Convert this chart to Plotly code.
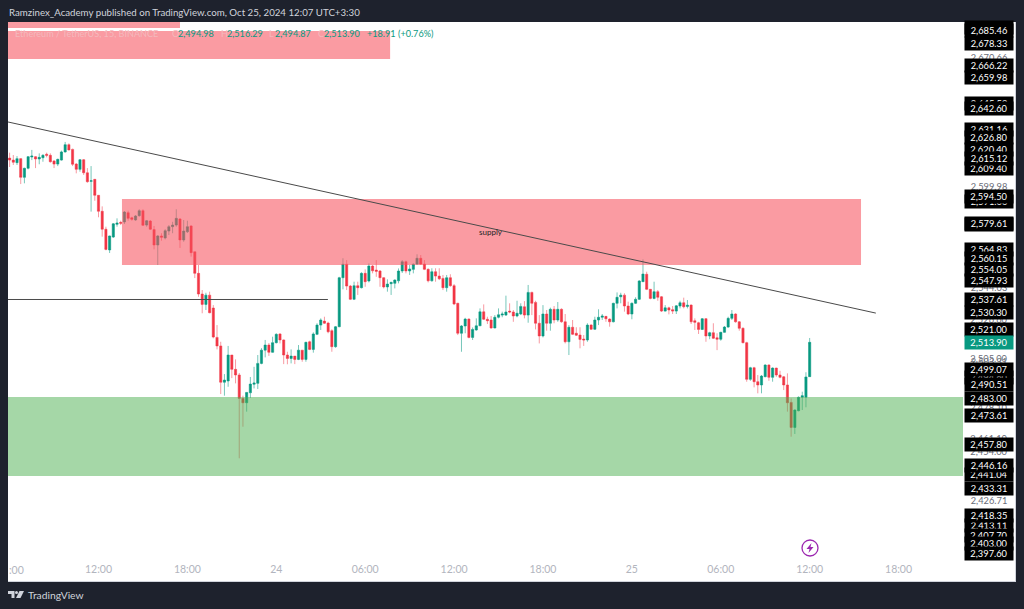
import pandas as pd
import plotly.graph_objects as go

opens = [
2615.4,2614.3,2612.9,2615.1,2604.8,2609.8,2616.0,2616.2,2614.9,2615.6,
2617.5,2616.9,2613.8,2612.1,2614.3,2618.8,2622.8,2620.2,2612.1,2609.2,
2614.5,2607.3,2602.6,2603.7,2594.9,2586.1,2576.2,2564.8,2571.9,2578.9,
2580.0,2580.2,2585.3,2582.5,2581.3,2583.7,2586.4,2578.5,2580.7,2576.0,
2567.5,2572.5,2571.4,2575.2,2577.6,2578.5,2581.8,2570.3,2574.8,2578.0,
2563.8,2551.9,2540.5,2534.8,2539.9,2532.8,2516.6,2511.9,2491.9,2492.6,
2506.9,2499.0,2495.9,2483.0,2480.6,2486.1,2490.8,2491.3,2502.3,2509.6,
2512.4,2508.4,2513.7,2518.5,2515.2,2506.9,2505.0,2506.3,2504.5,2509.6,
2504.5,2514.2,2510.0,2518.3,2523.4,2525.6,2524.5,2520.3,2511.5,2522.5,
2549.5,2556.9,2544.9,2537.6,2545.1,2544.0,2551.9,2547.7,2555.9,2553.7,
2553.2,2549.5,2544.4,2546.2,2546.4,2547.8,2553.2,2558.3,2553.2,2554.1,
2557.0,2560.2,2557.0,2554.1,2547.8,2552.8,2550.4,2549.1,2544.0,2549.5,
2545.1,2535.4,2518.9,2522.9,2526.7,2516.6,2520.7,2523.0,2530.7,2526.6,
2526.2,2521.8,2527.7,2528.9,2528.9,2531.1,2530.6,2528.4,2529.5,2533.5,
2528.9,2541.4,2535.9,2524.4,2517.4,2529.5,2524.4,2532.1,2526.2,2532.1,
2525.2,2514.2,2522.2,2518.9,2517.9,2515.7,2515.2,2523.4,2521.1,2526.2,
2527.7,2528.2,2526.7,2525.2,2535.4,2539.0,2539.9,2533.9,2529.5,2535.4,
2537.6,2547.3,2551.4,2543.1,2538.1,2541.8,2539.0,2531.1,2532.9,2531.9,
2531.1,2533.9,2535.7,2533.7,2534.4,2525.8,2524.7,2521.0,2526.9,2517.4,
2519.2,2516.4,2515.6,2519.4,2522.3,2527.1,2529.5,2525.2,2521.6,2513.7,
2493.5,2499.9,2492.2,2490.4,2495.0,2501.4,2494.6,2499.7,2495.9,2494.9,
2490.4,2480.8,2467.0,2476.2,2483.6,2483.6,2494.98]
highs = [
2618.4,2617.1,2616.5,2615.4,2610.1,2616.5,2619.9,2616.5,2618.0,2617.6,
2618.4,2618.0,2614.3,2615.1,2619.5,2624.3,2623.5,2620.6,2612.7,2614.9,
2614.9,2609.9,2611.0,2603.9,2595.0,2588.8,2577.6,2572.7,2579.6,2582.2,
2580.9,2586.2,2586.4,2583.1,2584.0,2587.2,2587.2,2581.3,2581.3,2578.0,
2573.0,2574.0,2576.2,2578.5,2580.3,2587.2,2582.4,2581.3,2580.9,2578.4,
2563.8,2556.5,2542.7,2541.2,2541.8,2534.4,2523.4,2514.2,2496.4,2511.9,
2506.9,2504.5,2497.0,2484.5,2486.5,2494.8,2500.4,2506.9,2510.7,2515.2,
2513.5,2517.0,2518.9,2518.9,2515.5,2508.7,2510.0,2506.3,2512.4,2509.6,
2514.2,2514.8,2519.4,2524.4,2527.1,2528.0,2525.2,2521.1,2522.9,2550.0,
2560.2,2559.2,2545.5,2547.3,2547.3,2552.5,2554.1,2557.4,2556.5,2559.2,
2553.7,2549.7,2548.6,2547.3,2548.6,2554.6,2559.2,2558.9,2556.5,2557.4,
2562.4,2562.0,2559.2,2554.7,2554.7,2554.7,2554.7,2551.0,2551.0,2551.4,
2546.0,2535.7,2523.4,2527.4,2527.1,2522.1,2527.1,2532.6,2534.8,2528.0,
2528.4,2528.9,2532.6,2530.8,2539.6,2535.4,2531.7,2536.8,2535.4,2536.6,
2545.5,2541.8,2536.8,2528.9,2534.4,2531.7,2533.0,2533.9,2536.1,2532.6,
2529.5,2523.4,2526.2,2522.2,2522.2,2517.9,2524.4,2523.9,2528.0,2532.1,
2529.5,2528.4,2527.1,2535.7,2541.4,2541.2,2540.9,2536.3,2535.9,2538.7,
2548.2,2559.6,2552.8,2543.3,2547.3,2542.7,2539.4,2534.4,2533.5,2533.9,
2534.4,2536.8,2538.5,2537.2,2534.8,2527.1,2525.2,2527.3,2527.3,2519.7,
2524.4,2518.9,2519.7,2522.9,2528.0,2531.7,2529.9,2525.6,2522.2,2514.2,
2500.4,2500.4,2495.9,2495.9,2501.8,2501.8,2500.1,2499.9,2498.2,2495.3,
2496.8,2483.0,2477.0,2484.1,2486.7,2497.4,2516.29]
lows = [
2610.5,2611.6,2611.6,2601.1,2601.5,2609.2,2614.3,2609.9,2612.0,2613.4,
2615.8,2612.9,2609.9,2611.0,2614.0,2618.4,2619.5,2611.0,2607.0,2607.9,
2606.1,2601.8,2585.9,2591.9,2582.8,2572.1,2564.6,2563.1,2571.4,2577.6,
2578.5,2579.1,2580.9,2580.9,2580.9,2583.1,2578.0,2577.6,2575.8,2565.1,
2556.5,2569.9,2570.6,2573.0,2574.0,2577.6,2565.9,2569.3,2574.1,2561.1,
2549.3,2539.0,2529.9,2531.7,2529.9,2516.1,2510.0,2485.4,2484.5,2489.4,
2494.2,2491.3,2450.0,2467.4,2475.7,2483.2,2488.5,2488.2,2501.8,2505.6,
2506.4,2508.2,2513.3,2513.3,2501.9,2501.8,2502.3,2501.9,2504.1,2503.2,
2503.2,2509.6,2508.2,2517.9,2520.7,2524.0,2518.9,2508.7,2510.9,2522.2,
2543.1,2542.7,2537.2,2537.2,2540.0,2543.6,2544.5,2546.9,2551.9,2550.0,
2544.5,2543.6,2541.8,2540.0,2543.6,2546.4,2552.1,2551.9,2551.0,2551.9,
2556.5,2556.5,2553.7,2546.9,2547.3,2547.3,2548.2,2542.7,2541.8,2544.5,
2534.4,2517.9,2508.7,2518.9,2516.1,2515.2,2520.3,2522.9,2526.2,2524.0,
2521.4,2521.6,2527.1,2527.7,2528.4,2529.9,2525.2,2527.7,2528.9,2527.1,
2524.7,2528.9,2521.0,2513.3,2516.6,2520.3,2520.3,2524.4,2525.2,2524.7,
2513.3,2506.9,2517.9,2517.4,2510.6,2511.9,2514.2,2520.7,2520.7,2523.4,
2526.2,2525.2,2522.5,2524.9,2532.6,2535.4,2530.8,2528.9,2526.6,2535.0,
2537.2,2547.3,2542.7,2537.6,2537.6,2536.8,2530.6,2530.8,2529.3,2529.5,
2529.5,2532.6,2532.6,2532.6,2524.0,2520.7,2518.5,2520.7,2514.2,2515.6,
2515.7,2509.6,2514.8,2519.2,2521.9,2526.2,2524.7,2520.3,2513.3,2492.2,
2492.7,2489.1,2485.8,2485.8,2494.6,2492.7,2492.2,2494.9,2494.1,2487.6,
2475.7,2461.9,2463.4,2475.9,2476.6,2478.1,2494.87]
closes = [
2614.3,2613.1,2615.1,2604.8,2609.8,2616.2,2616.5,2614.9,2615.8,2616.9,
2616.9,2613.4,2612.1,2614.7,2618.8,2622.8,2619.9,2612.0,2609.2,2614.5,
2607.3,2602.4,2602.9,2594.9,2586.1,2576.2,2565.1,2572.5,2579.2,2579.6,
2579.5,2585.7,2582.2,2581.7,2583.5,2586.4,2578.4,2580.9,2576.2,2567.5,
2572.5,2571.8,2575.4,2577.6,2578.5,2582.2,2570.3,2575.2,2577.6,2563.3,
2551.9,2540.5,2534.8,2539.9,2530.2,2516.8,2511.9,2491.9,2493.1,2506.9,
2499.0,2495.9,2483.0,2480.6,2486.3,2490.9,2491.5,2502.3,2509.6,2512.4,
2508.4,2513.7,2518.3,2515.2,2506.9,2505.0,2506.3,2504.5,2509.6,2504.5,
2513.9,2510.0,2518.5,2523.4,2526.2,2524.4,2519.7,2511.5,2522.5,2549.5,
2556.9,2544.9,2537.6,2545.1,2544.0,2551.9,2547.3,2555.9,2553.3,2553.0,
2549.5,2544.4,2546.0,2546.9,2548.2,2553.2,2558.3,2553.2,2554.3,2556.9,
2560.2,2557.0,2554.1,2547.8,2552.8,2550.4,2548.9,2544.0,2549.5,2545.1,
2535.0,2518.9,2522.9,2526.7,2516.6,2521.0,2523.0,2530.7,2526.6,2525.8,
2521.8,2527.7,2529.1,2529.5,2530.6,2530.6,2528.4,2529.9,2533.7,2528.9,
2541.4,2535.4,2524.4,2517.4,2529.5,2524.4,2532.1,2526.2,2532.1,2525.2,
2514.2,2522.2,2518.3,2517.8,2515.5,2515.2,2523.4,2521.1,2526.2,2527.7,
2528.4,2526.9,2525.2,2535.4,2538.7,2539.9,2533.9,2529.5,2535.4,2537.6,
2547.7,2551.5,2543.1,2538.1,2541.8,2538.7,2531.1,2532.9,2531.7,2531.1,
2534.0,2535.7,2533.5,2534.3,2525.2,2524.9,2521.0,2526.9,2517.4,2519.2,
2516.1,2515.6,2519.4,2522.3,2527.1,2529.5,2525.2,2521.6,2513.7,2493.5,
2499.9,2492.2,2490.4,2495.3,2501.4,2494.6,2499.7,2495.9,2494.6,2490.4,
2480.6,2467.0,2476.6,2483.6,2484.5,2494.8,2513.90]
assert len(opens) == len(highs) == len(lows) == len(closes) == 217

times = pd.date_range("2024-10-23 06:00", periods=217, freq="15min")

tick_times = ["2024-10-23 12:00","2024-10-23 18:00","2024-10-24 00:00","2024-10-24 06:00",
              "2024-10-24 12:00","2024-10-24 18:00","2024-10-25 00:00","2024-10-25 06:00",
              "2024-10-25 12:00","2024-10-25 18:00"]
tick_text = ["12:00","18:00","24","06:00","12:00","18:00","25","06:00","12:00","18:00"]

plain_labels = [2670.66, 2599.98, 2544.03, 2526.60, 2505.00, 2503.31, 2478.10, 2461.10, 2454.00, 2426.71]
covered_labels = [2687.10, 2645.52, 2631.16, 2620.40, 2609.40, 2591.66, 2578.87, 2494.60, 2441.04, 2413.11, 2407.70]
front_labels = [2685.46, 2678.33, 2666.22, 2659.98, 2642.60, 2626.80, 2615.12, 2594.50, 2579.61,
                2564.83, 2560.15, 2554.05, 2547.93, 2537.61, 2530.30, 2521.00, 2499.07, 2490.51,
                2483.00, 2473.61, 2457.80, 2446.16, 2433.31, 2418.35, 2403.00, 2397.60]
last_price = 2513.90

header_text = "Ramzinex_Academy published on TradingView.com, Oct 25, 2024 12:07 UTC+3:30"
symbol_text = "Ethereum / TetherUS, 15, BINANCE"
ohlc_letters = ["O", "H", "L", "C"]
ohlc_values = ["2,494.98", "2,516.29", "2,494.87", "2,513.90"]
change_text = ["+18.91", "(+0.76%)"]

UP, DOWN = "#089981", "#f23645"
DARK = "#1e222d"
W, H = 1024, 609
L, R, T, B = 8, 1015, 22, 581
SCALE_FONT = "Lato"


def px(x):
    return (x - L) / (R - L)


def py(y):
    return (B - y) / (B - T)


fig = go.Figure(go.Candlestick(
    x=times, open=opens, high=highs, low=lows, close=closes,
    increasing=dict(line=dict(color="rgba(8,153,129,0.55)", width=1), fillcolor=UP),
    decreasing=dict(line=dict(color="rgba(242,54,69,0.5)", width=1), fillcolor=DOWN),
    whiskerwidth=0, showlegend=False, hoverinfo="skip",
))

RED_ZONE = "rgba(247,82,95,0.58)"
GREEN_ZONE = "rgba(76,175,80,0.5)"
X0 = "2024-10-23 05:53:30"
shapes = [
    dict(type="rect", x0=X0, x1="2024-10-23 17:30", y0=2687.07, y1=2690.4, fillcolor=RED_ZONE, line_width=0),
    dict(type="rect", x0=X0, x1="2024-10-24 07:41", y0=2670.0, y1=2685.4, fillcolor=RED_ZONE, line_width=0),
    dict(type="rect", x0="2024-10-23 13:35", x1="2024-10-25 15:28", y0=2556.5, y1=2592.85, fillcolor=RED_ZONE, line_width=0),
    dict(type="rect", x0=X0, x1="2024-10-25 22:21", y0=2440.2, y1=2483.76, fillcolor=GREEN_ZONE, line_width=0),
    dict(type="line", x0=X0, x1="2024-10-25 16:28", y0=2635.3, y1=2530.0, line=dict(color="#4a4a4a", width=1)),
    dict(type="line", x0=X0, x1="2024-10-24 03:29", y0=2537.5, y1=2537.5, line=dict(color="#4a4a4a", width=1)),
    # lightning badge
    dict(type="circle", xref="paper", yref="paper", x0=px(802), x1=px(818), y0=py(556), y1=py(540),
         line=dict(color="#9c27b0", width=1.3)),
    dict(type="path", xref="paper", yref="paper", fillcolor="#9c27b0", line_width=0,
         path=f"M {px(811.5)} {py(543)} L {px(806.5)} {py(549)} L {px(809.5)} {py(549)} L {px(808.5)} {py(553)} "
              f"L {px(813.5)} {py(547)} L {px(810.5)} {py(547)} Z"),
    # TradingView logo
    dict(type="path", xref="paper", yref="paper", fillcolor="#d1d4dc", line_width=0,
         path=f"M {px(8)} {py(591)} L {px(14.5)} {py(591)} L {px(14.5)} {py(598)} L {px(11.5)} {py(598)} "
              f"L {px(11.5)} {py(594)} L {px(8)} {py(594)} Z"),
    dict(type="circle", xref="paper", yref="paper", fillcolor="#d1d4dc", line_width=0,
         x0=px(15), x1=px(18), y0=py(594), y1=py(591)),
    dict(type="path", xref="paper", yref="paper", fillcolor="#d1d4dc", line_width=0,
         path=f"M {px(19.5)} {py(591)} L {px(24)} {py(591)} L {px(20.5)} {py(598)} L {px(16)} {py(598)} Z"),
]

ann = []


def paper_text(text, x, y, color, size, anchor="left", font=SCALE_FONT):
    ann.append(dict(text=text, xref="paper", yref="paper", x=px(x), y=py(y), xanchor=anchor, yanchor="middle",
                    showarrow=False, font=dict(family=font, size=size, color=color), borderpad=0))


def scale_label(value, text_color, bg=None):
    d = dict(text=f"{value:,.2f}", xref="paper", yref="y", x=px(964), y=value, xanchor="left", yanchor="middle",
             showarrow=False, width=48, height=13, align="center", borderpad=0,
             font=dict(family=SCALE_FONT, size=9.3, color=text_color))
    if bg:
        d["bgcolor"] = bg
    ann.append(d)


for v in plain_labels:
    scale_label(v, "#6a6d78")
for v in covered_labels:
    scale_label(v, "#ffffff", "#000000")
for v in front_labels:
    scale_label(v, "#ffffff", "#000000")
scale_label(last_price, "#ffffff", UP)

paper_text(header_text, 8, 12, "#d1d4dc", 9.7)
paper_text(symbol_text, 14, 33.5, "#f4b9bd", 9.1)
letter_x = [171, 220, 268, 317]
value_x = [177, 226, 274, 323]
for lt, lx, val, vx in zip(ohlc_letters, letter_x, ohlc_values, value_x):
    paper_text(lt, lx, 33.5, "#f4b9bd", 9.1)
    paper_text(val, vx, 33.5, UP, 9.1)
paper_text(change_text[0], 366, 33.5, UP, 9.1)
paper_text(change_text[1], 397, 33.5, UP, 9.1)
paper_text(":00", 8, 570, "#b2b5be", 10.5)
paper_text("TradingView", 27, 595, "#d1d4dc", 10.3)
ann.append(dict(text="supply", x="2024-10-24 14:30", y=2574.7, showarrow=False,
                font=dict(family=SCALE_FONT, size=8, color="#222222")))

fig.update_layout(
    width=W, height=H, autosize=False, boxgap=0.15,
    margin=dict(l=L, r=W - R, t=T, b=H - B, pad=0),
    paper_bgcolor=DARK, plot_bgcolor="#ffffff",
    showlegend=False, shapes=shapes, annotations=ann,
    xaxis=dict(type="date", range=[X0, "2024-10-26 01:51:36"], rangeslider=dict(visible=False),
               showgrid=False, zeroline=False, tickmode="array", tickvals=tick_times, ticktext=tick_text,
               ticklabelposition="inside", ticklabelstandoff=5, ticks="", showline=True, linecolor="#d1d4dc", linewidth=1,
               tickfont=dict(family=SCALE_FONT, size=10.5, color="#b2b5be")),
    yaxis=dict(range=[2382.4, 2690.38], side="right", showgrid=False, zeroline=False, showticklabels=False,
               ticks="", showline=True, linecolor="#d1d4dc", linewidth=1),
)

fig.write_html("out.html", config=dict(displayModeBar=False),
               post_script="document.body.style.margin='0';document.documentElement.style.overflow='hidden';")
